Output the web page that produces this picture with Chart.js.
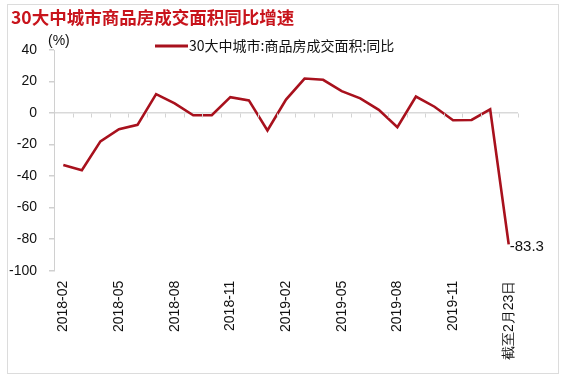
<!DOCTYPE html>
<html>
<head>
<meta charset="utf-8">
<script src="https://cdn.jsdelivr.net/npm/chart.js@4/dist/chart.umd.min.js"></script>
<style>
html,body{margin:0;padding:0;background:#fff;}
#wrap{width:566px;height:384px;position:relative;}
</style>
</head>
<body>
<div id="wrap"><canvas id="c" width="566" height="384"></canvas></div>
<script>
const titleText = '30大中城市商品房成交面积同比增速';
const seriesName = '30大中城市:商品房成交面积:同比';
const unitLabel = '(%)';
const categories = ['2018-02','2018-03','2018-04','2018-05','2018-06','2018-07','2018-08','2018-09','2018-10','2018-11','2018-12','2019-01','2019-02','2019-03','2019-04','2019-05','2019-06','2019-07','2019-08','2019-09','2019-10','2019-11','2019-12','2020-01','截至2月23日'];
const values = [-33.0,-36.3,-18.0,-10.3,-7.5,12.0,6.1,-1.4,-1.4,10.1,8.0,-11.1,8.5,21.9,21.1,13.9,9.3,2.0,-9.0,10.5,4.0,-4.6,-4.4,2.4,-83.3];
const yTicks = [40,20,0,-20,-40,-60,-80,-100];
const lastLabel = '-83.3';

const RED = '#a8111d';
const FONT = '"Liberation Sans", Arial, sans-serif';

const decor = {
  id: 'decor',
  beforeDraw(chart) {
    const ctx = chart.ctx;
    ctx.save();
    ctx.fillStyle = '#fff';
    ctx.fillRect(0, 0, chart.width, chart.height);
    ctx.strokeStyle = '#dcdcdc';
    ctx.lineWidth = 1;
    ctx.strokeRect(7.5, 4.5, 551, 369);
    ctx.restore();
  },
  afterDatasetsDraw(chart) {
    const ctx = chart.ctx;
    const xs = chart.scales.x, ys = chart.scales.y;
    ctx.save();
    const sp = xs.getPixelForValue(1) - xs.getPixelForValue(0);
    const y0 = Math.round(ys.getPixelForValue(0)) + 0.5;
    ctx.strokeStyle = '#d4d4d4';
    ctx.lineWidth = 1;
    ctx.beginPath();
    for (let i = 0; i < categories.length; i++) {
      const x = Math.round(xs.getPixelForValue(i) + sp / 2) + 0.5;
      ctx.moveTo(x, y0);
      ctx.lineTo(x, y0 + 4);
    }
    ctx.stroke();
    ctx.fillStyle = '#c8141c';
    ctx.font = 'bold 17.5px "Noto Sans CJK SC", sans-serif';
    ctx.textBaseline = 'middle';
    ctx.textAlign = 'left';
    ctx.fillText(titleText, 11, 17);
    ctx.strokeStyle = RED;
    ctx.lineWidth = 3;
    ctx.beginPath();
    ctx.moveTo(155, 46);
    ctx.lineTo(188, 46);
    ctx.stroke();
    ctx.fillStyle = '#111';
    ctx.font = '14px "Noto Sans CJK SC", sans-serif';
    ctx.fillText(seriesName, 189, 46);
    ctx.font = '14px ' + FONT;
    ctx.fillText(unitLabel, 48, 41);
    const n = values.length - 1;
    const px = xs.getPixelForValue(n), py = ys.getPixelForValue(values[n]);
    ctx.font = '15px ' + FONT;
    ctx.fillStyle = '#111';
    ctx.fillText(lastLabel, px + 1, py + 3);
    ctx.restore();
  }
};

new Chart(document.getElementById('c'), {
  type: 'line',
  data: {
    labels: categories,
    datasets: [{
      label: seriesName,
      data: values,
      borderColor: RED,
      backgroundColor: RED,
      borderWidth: 2.6,
      pointRadius: 0,
      tension: 0,
      fill: false
    }]
  },
  options: {
    responsive: false,
    animation: false,
    devicePixelRatio: 1,
    layout: { padding: { left: -3, right: 48, top: 50, bottom: 14 } },
    plugins: { legend: { display: false }, title: { display: false }, tooltip: { enabled: false } },
    scales: {
      x: {
        type: 'category',
        offset: true,
        grid: { display: false, drawTicks: false },
        border: { display: false },
        ticks: {
          autoSkip: false,
          minRotation: 90,
          maxRotation: 90,
          padding: 10,
          color: '#111',
          font: { size: 14, family: FONT },
          callback: (v, i) => (i % 3 === 0 ? categories[i] : '')
        }
      },
      y: {
        min: -100,
        max: 40,
        afterBuildTicks: (s) => { s.ticks = yTicks.map(v => ({ value: v })); },
        grid: {
          color: (c) => (c.tick && c.tick.value === 0 ? '#d9d9d9' : 'rgba(0,0,0,0)'),
          lineWidth: 1.5,
          tickColor: '#d0d0d0',
          tickLength: 5,
          drawTicks: true
        },
        border: { display: true, color: '#d0d0d0', width: 1 },
        ticks: {
          padding: 12,
          color: '#111',
          font: { size: 14, family: FONT }
        }
      }
    }
  },
  plugins: [decor]
});
</script>
</body>
</html>
